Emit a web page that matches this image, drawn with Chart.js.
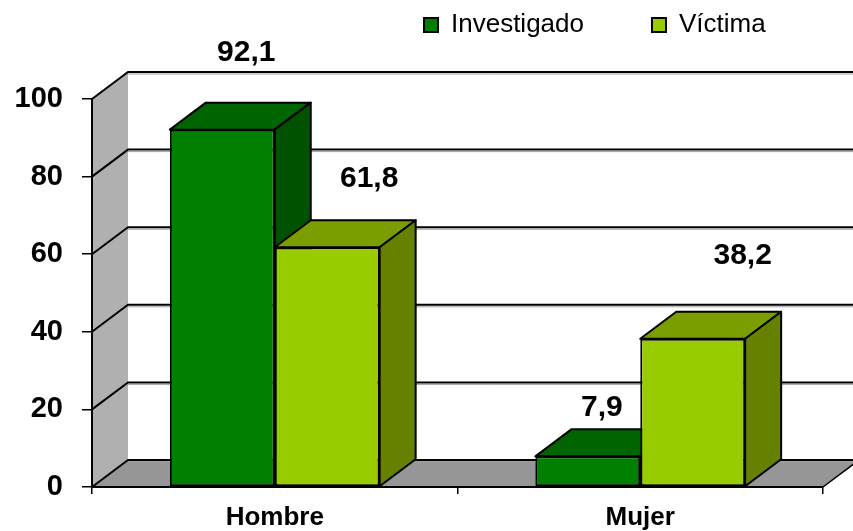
<!DOCTYPE html>
<html>
<head>
<meta charset="utf-8">
<script src="https://cdn.jsdelivr.net/npm/chart.js@4.4.1/dist/chart.umd.min.js"></script>
<style>
    html, body { margin: 0; padding: 0; background: #fff; }
    #wrap { width: 853px; height: 531px; position: relative; }
</style>
</head>
<body>
<div id="wrap"><canvas id="sexoChart"></canvas></div>
<script>
const categories = ['Hombre', 'Mujer'];
const seriesNames = ['Investigado', 'Víctima'];
const investigado = [92.1, 7.9];
const victima = [61.8, 38.2];
const yTicks = [0, 20, 40, 60, 80, 100];

// 3D depth of walls and bars
const DEPTH_X = 36;
const DEPTH_Y = 27;
// label nudges (per dataset, per category) relative to bar top centre
const labelNudge = [[[24, -77], [14, -49]], [[42, -68], [50, -83]]];
const FONT = "'Liberation Sans', Arial, sans-serif";
const LEGEND_PAD = 68;

const wallsPlugin = {
    id: 'walls',
    beforeLayout(chart) {
        // legend takes no room in the layout, it sits above the back wall
        const lg = chart.legend;
        if (lg && !lg._noHeight) {
            const fit = lg.fit;
            lg.fit = function () { fit.call(this); this.height = 0; };
            lg._noHeight = true;
        }
    },
    beforeDraw(chart) {
        const { ctx, chartArea: a, scales } = chart;
        const y = scales.y;
        const w = chart.width;
        ctx.save();
        // side wall
        ctx.fillStyle = '#b0b0b0';
        ctx.beginPath();
        ctx.moveTo(a.left, a.top);
        ctx.lineTo(a.left + DEPTH_X, a.top - DEPTH_Y);
        ctx.lineTo(a.left + DEPTH_X, a.bottom - DEPTH_Y);
        ctx.lineTo(a.left, a.bottom);
        ctx.closePath();
        ctx.fill();
        // floor
        ctx.fillStyle = '#969696';
        ctx.beginPath();
        ctx.moveTo(a.left, a.bottom);
        ctx.lineTo(a.right, a.bottom);
        ctx.lineTo(a.right + DEPTH_X, a.bottom - DEPTH_Y);
        ctx.lineTo(a.left + DEPTH_X, a.bottom - DEPTH_Y);
        ctx.closePath();
        ctx.fill();
        ctx.strokeStyle = '#000';
        ctx.lineWidth = 1.5;
        ctx.beginPath();
        ctx.moveTo(a.right, a.bottom);
        ctx.lineTo(a.right + DEPTH_X, a.bottom - DEPTH_Y);
        ctx.stroke();
        // gridlines on side and back wall
        yTicks.forEach(v => {
            const py = y.getPixelForValue(v);
            ctx.strokeStyle = '#a0a0a0';
            ctx.lineWidth = 1;
            ctx.beginPath();
            ctx.moveTo(a.left + DEPTH_X, py - DEPTH_Y + 2);
            ctx.lineTo(w, py - DEPTH_Y + 2);
            ctx.stroke();
            ctx.strokeStyle = '#000';
            ctx.lineWidth = 2;
            ctx.beginPath();
            ctx.moveTo(a.left, py);
            ctx.lineTo(a.left + DEPTH_X, py - DEPTH_Y);
            ctx.lineTo(w, py - DEPTH_Y);
            ctx.stroke();
        });
        ctx.restore();

        // place the legend above the plot
        const lg = chart.legend;
        if (lg) {
            lg.left = 424 - LEGEND_PAD;
            lg.right = lg.left + 700;
            lg.top = 12 - LEGEND_PAD;
        }
    }
};

const bars3dPlugin = {
    id: 'bars3d',
    beforeDatasetsDraw(chart) {
        const ctx = chart.ctx;
        ctx.save();
        ctx.strokeStyle = '#000';
        ctx.lineWidth = 2;
        ctx.lineJoin = 'round';
        chart.data.datasets.forEach((ds, di) => {
            const meta = chart.getDatasetMeta(di);
            meta.data.forEach(el => {
                const { x, y, base, width } = el.getProps(['x', 'y', 'base', 'width'], true);
                const l = x - width / 2, r = x + width / 2;
                // top face
                ctx.fillStyle = ds.topColor;
                ctx.beginPath();
                ctx.moveTo(l, y);
                ctx.lineTo(r, y);
                ctx.lineTo(r + DEPTH_X, y - DEPTH_Y);
                ctx.lineTo(l + DEPTH_X, y - DEPTH_Y);
                ctx.closePath();
                ctx.fill();
                ctx.stroke();
                // side face
                ctx.fillStyle = ds.sideColor;
                ctx.beginPath();
                ctx.moveTo(r, y);
                ctx.lineTo(r + DEPTH_X, y - DEPTH_Y);
                ctx.lineTo(r + DEPTH_X, base - DEPTH_Y);
                ctx.lineTo(r, base);
                ctx.closePath();
                ctx.fill();
                ctx.stroke();
            });
        });
        ctx.restore();
    }
};

const valueLabelsPlugin = {
    id: 'valueLabels',
    afterDatasetsDraw(chart) {
        const ctx = chart.ctx;
        ctx.save();
        ctx.font = 'bold 30px ' + FONT;
        ctx.fillStyle = '#000';
        ctx.textAlign = 'center';
        ctx.textBaseline = 'middle';
        chart.data.datasets.forEach((ds, di) => {
            chart.getDatasetMeta(di).data.forEach((el, i) => {
                const n = labelNudge[di][i];
                const txt = ds.data[i].toFixed(1).replace('.', ',');
                ctx.fillText(txt, el.x + n[0], el.y + n[1]);
            });
        });
        ctx.restore();
    }
};

const ctx = document.getElementById('sexoChart').getContext('2d');
new Chart(ctx, {
    type: 'bar',
    data: {
        labels: categories,
        datasets: [{
            label: seriesNames[0],
            data: investigado,
            backgroundColor: '#008000',
            topColor: '#006400',
            sideColor: '#005200',
            borderColor: '#000',
            borderWidth: 2,
            borderSkipped: false
        }, {
            label: seriesNames[1],
            data: victima,
            backgroundColor: '#99cc00',
            topColor: '#7a9e00',
            sideColor: '#668000',
            borderColor: '#000',
            borderWidth: 2,
            borderSkipped: false
        }]
    },
    options: {
        responsive: true,
        maintainAspectRatio: false,
        animation: false,
        categoryPercentage: 0.574,
        barPercentage: 1,
        layout: {
            padding: { top: 99, right: 30, bottom: 0, left: 0 }
        },
        plugins: {
            legend: {
                position: 'top',
                align: 'start',
                labels: {
                    boxWidth: 14,
                    boxHeight: 14,
                    padding: LEGEND_PAD,
                    color: '#000',
                    font: { family: FONT, size: 26 }
                }
            },
            tooltip: { enabled: false }
        },
        scales: {
            x: {
                afterFit: s => { s.height = 44; },
                border: { display: true, color: '#000', width: 2 },
                grid: { display: true, drawOnChartArea: false, drawTicks: true, tickLength: 7, color: '#000', lineWidth: 1.5 },
                ticks: { color: '#000', padding: 8, font: { family: FONT, size: 26, weight: 'bold' } }
            },
            y: {
                min: 0,
                max: 100,
                afterFit: s => { s.width = 92; },
                border: { display: true, color: '#000', width: 2 },
                grid: { display: true, drawOnChartArea: false, drawTicks: true, tickLength: 10, color: '#000', lineWidth: 1.5 },
                ticks: { stepSize: 20, color: '#000', padding: 19, font: { family: FONT, size: 29, weight: 'bold' } }
            }
        }
    },
    plugins: [wallsPlugin, bars3dPlugin, valueLabelsPlugin]
});
</script>
</body>
</html>
